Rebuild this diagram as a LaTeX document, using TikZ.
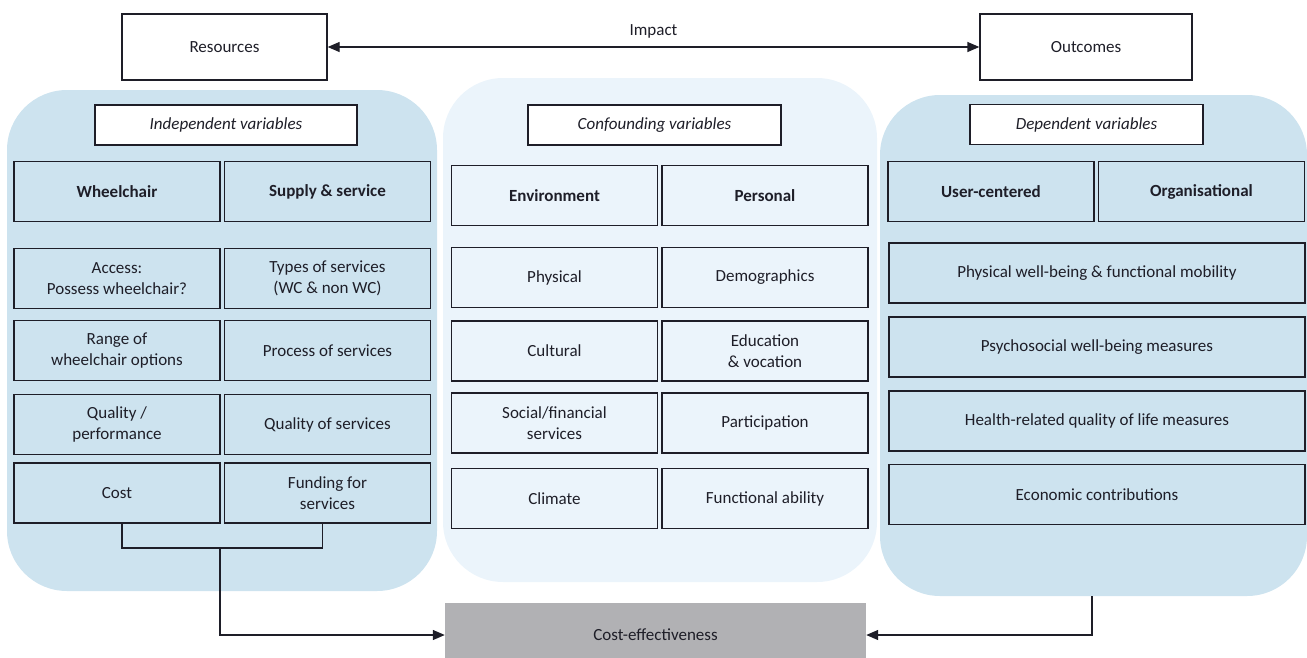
\documentclass[tikz,border=0pt]{standalone}
\usepackage{fontspec}
\setmainfont{Carlito}
\usetikzlibrary{arrows.meta}

\definecolor{panelblue}{RGB}{205,227,239}
\definecolor{panelpale}{RGB}{235,244,251}
\definecolor{costgray}{RGB}{177,177,180}
\definecolor{inkcol}{RGB}{30,30,40}

\begin{document}
\begin{tikzpicture}[x=1pt, y=-1pt, font=\fontsize{17}{21}\selectfont, text=inkcol,
    panel/.style={rounded corners=60pt, inner sep=0pt},
    cell/.style={draw=inkcol, line width=1.3pt, minimum width=206pt, minimum height=60pt,
        align=center, inner sep=0pt},
    headcell/.style={cell, font=\fontsize{17}{21}\selectfont\bfseries},
    widecell/.style={cell, minimum width=416pt},
    vartitle/.style={draw=inkcol, fill=white, line width=1.3pt, minimum height=40pt,
        font=\fontsize{17}{21}\selectfont\itshape},
    link/.style={line width=1.3pt, draw=inkcol},
    >={Triangle[length=12pt, width=10pt]}]
    \useasboundingbox (0,0) rectangle (1307,657);

    % Background panels
    \node[panel, fill=panelblue, minimum width=430pt, minimum height=501pt] (indep) at (222,340.5) {};
    \node[panel, fill=panelpale, minimum width=434pt, minimum height=504pt] (conf) at (660,330) {};
    \node[panel, fill=panelblue, minimum width=427pt, minimum height=501pt] (dep) at (1093.5,345.5) {};

    % Resources <-> Outcomes
    \node[draw=inkcol, line width=1.3pt, minimum width=205pt, minimum height=66pt] (res) at (224.5,47) {Resources};
    \node[draw=inkcol, line width=1.3pt, minimum width=212pt, minimum height=66pt] (out) at (1086,47) {Outcomes};
    \draw[link, <->] (res) -- (out) node[midway, above=5pt] {Impact};

    % Independent variables
    \node[vartitle, minimum width=262pt] (indeptitle) at (226,125) {Independent variables};
    \node[headcell] (wc) at (117,191.5) {Wheelchair};
    \node[headcell] (supply) at (327.5,191.5) {Supply \& service};
    \node[cell] (access) at (117,278.5) {Access:\\Possess wheelchair?};
    \node[cell] (types) at (327.5,278.5) {Types of services\\(WC \& non WC)};
    \node[cell] (range) at (117,350.5) {Range of\\wheelchair options};
    \node[cell] (process) at (327.5,350.5) {Process of services};
    \node[cell] (quality) at (117,424.5) {Quality /\\performance};
    \node[cell] (qserv) at (327.5,424.5) {Quality of services};
    \node[cell] (cost) at (117,493) {Cost};
    \node[cell] (fund) at (327.5,493) {Funding for\\services};

    % Confounding variables
    \node[vartitle, minimum width=253pt] (conftitle) at (654.5,125) {Confounding variables};
    \node[headcell] (env) at (554.5,195.5) {Environment};
    \node[headcell] (pers) at (765,195.5) {Personal};
    \node[cell] (phys) at (554.5,277.5) {Physical};
    \node[cell] (demo) at (765,277.5) {Demographics};
    \node[cell] (cult) at (554.5,351) {Cultural};
    \node[cell] (edu) at (765,351) {Education\\\& vocation};
    \node[cell] (social) at (554.5,423) {Social/financial\\services};
    \node[cell] (part) at (765,423) {Participation};
    \node[cell] (climate) at (554.5,498.5) {Climate};
    \node[cell] (func) at (765,498.5) {Functional ability};

    % Dependent variables
    \node[vartitle, minimum width=233pt] (deptitle) at (1086.5,124.5) {Dependent variables};
    \node[headcell] (user) at (991,191.5) {User-centered};
    \node[headcell] (org) at (1201.5,191.5) {Organisational};
    \node[widecell] (wellb) at (1097,273) {Physical well-being \& functional mobility};
    \node[widecell] (psych) at (1097,347) {Psychosocial well-being measures};
    \node[widecell] (hrqol) at (1097,421) {Health-related quality of life measures};
    \node[widecell] (econ) at (1097,494.5) {Economic contributions};

    % Cost-effectiveness
    \node[fill=costgray, minimum width=421pt, minimum height=64pt] (ce) at (655.5,635) {Cost-effectiveness};
    \coordinate (costjoin) at (220,548);
    \coordinate (depout) at (1092,596);
    \draw[link] ([xshift=5pt]cost.south) |- (costjoin) -| ([xshift=-5pt]fund.south);
    \draw[link, ->] (costjoin) |- (ce.west);
    \draw[link, ->] (depout) |- (ce.east);
\end{tikzpicture}
\end{document}
